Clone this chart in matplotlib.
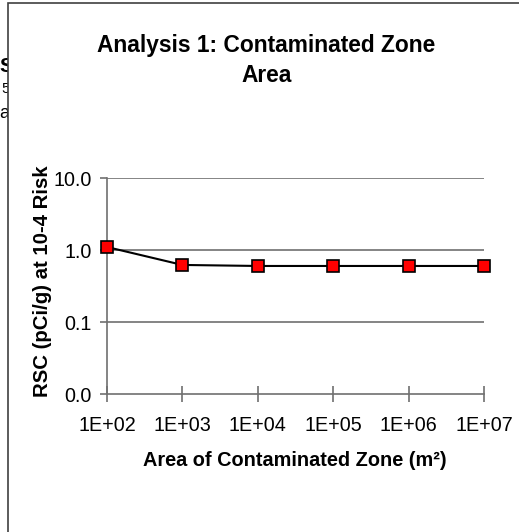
import matplotlib
matplotlib.use("Agg")
import matplotlib.pyplot as plt
from matplotlib.patches import Rectangle
from matplotlib.ticker import FixedLocator, FuncFormatter, NullLocator

plt.rcParams['font.family'] = ['Liberation Sans', 'DejaVu Sans']

area = [1e2, 1e3, 1e4, 1e5, 1e6, 1e7]
rsc = [1.1, 0.62, 0.60, 0.60, 0.60, 0.60]
yticks = [0.01, 0.1, 1, 10]
xticks = [1e2, 1e3, 1e4, 1e5, 1e6, 1e7]

W, H = 519, 532
fig = plt.figure(figsize=(W / 100, H / 100), dpi=100)

# clipped fragments of neighbouring text (left of the frame)
fig.text(-1 / W, 1 - 66 / H, "S", fontsize=15, fontweight='bold', va='center', ha='left', zorder=-3)
fig.text(1 / W, 1 - 89 / H, "5", fontsize=11, va='center', ha='left', zorder=-3)
fig.text(-1 / W, 1 - 113 / H, "a", fontsize=13, va='center', ha='left', zorder=-3)

# chart frame
frame = Rectangle((8 / W, -0.05), 1.2, 1.05 - 3 / H, transform=fig.transFigure,
                  facecolor='white', edgecolor='#404040', linewidth=1.2, zorder=-2)
fig.add_artist(frame)

ax = fig.add_axes([107 / W, 1 - 394 / H, 377 / W, 216 / H])
ax.set_facecolor('none')
ax.set_xscale('log')
ax.set_yscale('log')
ax.set_xlim(1e2, 1e7)
ax.set_ylim(0.01, 10)

ax.plot(area, rsc, color='black', linewidth=1.5, marker='s', markersize=9,
        markerfacecolor='#ff0000', markeredgecolor='black', markeredgewidth=1.2,
        clip_on=False, zorder=5)

ax.xaxis.set_major_locator(FixedLocator(xticks))
ax.xaxis.set_minor_locator(NullLocator())
ax.yaxis.set_major_locator(FixedLocator(yticks))
ax.yaxis.set_minor_locator(NullLocator())
ax.xaxis.set_major_formatter(FuncFormatter(lambda v, p: f"{v:.0E}"))
ax.yaxis.set_major_formatter(FuncFormatter(lambda v, p: f"{v:.1f}"))

for s in ['top', 'right']:
    ax.spines[s].set_visible(False)
for s in ['left', 'bottom']:
    ax.spines[s].set_color('#707070')
    ax.spines[s].set_linewidth(1.2)

for y in [0.1, 1, 10]:
    ax.axhline(y, color='#707070', linewidth=1.2, zorder=1)

ax.tick_params(axis='x', direction='inout', length=11, width=1.2, color='#707070',
               labelsize=14.2, pad=10.5)
ax.tick_params(axis='y', direction='out', length=5, width=1.2, color='#707070',
               labelsize=14.2, pad=5.8)

fig.text(266.5 / W, 1 - 45.5 / H, "Analysis 1: Contaminated Zone", fontsize=16.4,
         fontweight='bold', ha='center', va='center')
fig.text(266.5 / W, 1 - 75.5 / H, "Area", fontsize=16.4,
         fontweight='bold', ha='center', va='center')

fig.text(295 / W, 1 - 461 / H, "Area of Contaminated Zone (m²)", fontsize=14.3,
         fontweight='bold', ha='center', va='center')
fig.text(42.5 / W, 1 - 281.5 / H, "RSC (pCi/g) at 10-4 Risk", fontsize=14.7,
         fontweight='bold', ha='center', va='center', rotation=90)

fig.savefig("out.png", dpi=100)
